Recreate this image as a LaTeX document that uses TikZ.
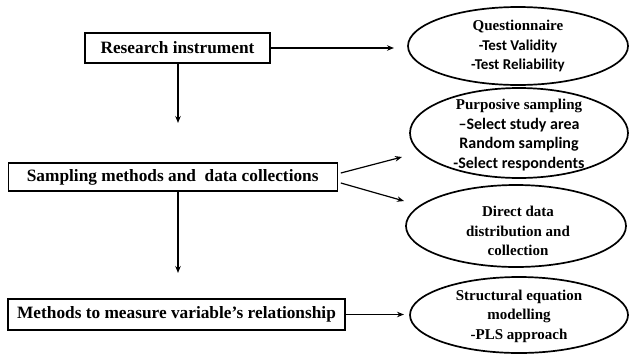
\documentclass[tikz,border=0pt]{standalone}
\usepackage{fontspec}
\setmainfont{Liberation Serif}
\newfontfamily\calib{Carlito}
\usetikzlibrary{shapes.geometric,arrows.meta}
\begin{document}
\begin{tikzpicture}[x=1pt,y=-1pt,
  box/.style={draw,line width=1.3pt,font=\bfseries\fontsize{17.3}{20}\selectfont,inner sep=0pt,anchor=center},
  oval/.style={draw,ellipse,line width=1.7pt,inner sep=0pt},
  otext/.style={align=center,inner sep=0pt,font=\bfseries\fontsize{15}{19.5}\selectfont},
  arr/.style={line width=1.2pt,-{Stealth[length=7pt,width=5.5pt]}}]
\useasboundingbox (0,0) rectangle (629,354);
\node[box,minimum width=185pt,minimum height=30pt] (b1) at (177.5,48) {Research instrument};
\node[box,minimum width=329pt,minimum height=28pt] (b2) at (172.7,177) {Sampling methods and\ \ data collections};
\node[box,minimum width=337pt,minimum height=31pt] (b3) at (176.5,314.5) {Methods to measure variable’s relationship};
\node[oval,minimum width=220pt,minimum height=78pt] (e1) at (518,46) {};
\node[oval,minimum width=218pt,minimum height=90pt] (e2) at (519,133) {};
\node[oval,minimum width=220pt,minimum height=82pt] (e3) at (516,226) {};
\node[oval,minimum width=218pt,minimum height=76pt] (e4) at (519,315) {};
\node[otext] (x1) at (518,46) {Questionnaire\\{\calib\fontsize{15}{19.5}\selectfont -Test Validity}\\{\calib\fontsize{15}{19.5}\selectfont -Test Reliability}};
\node[otext] (x2) at (519,135) {Purposive sampling\\{\calib\fontsize{16}{19.5}\selectfont –Select study area}\\{\calib\fontsize{16}{19.5}\selectfont Random sampling}\\{\calib\fontsize{16}{19.5}\selectfont -Select respondents}};
\node[otext] (x3) at (518,231) {Direct data\\distribution and\\collection};
\node[otext] (x4) at (519,316) {Structural equation\\modelling\\-PLS approach};
\coordinate (t1) at (394,48);
\coordinate (t2) at (402,157);
\coordinate (t3) at (404,201);
\coordinate (t4) at (404,314.5);
\coordinate (d1) at (178,123);
\coordinate (d2) at (178,273);
\draw[arr] (b1.east) -- (t1);
\draw[arr] (b1.south -| d1) -- (d1);
\draw[arr] (b2.east) ++(3,-4) -- (t2);
\draw[arr] (b2.east) ++(3,6) -- (t3);
\draw[arr] (b2.south -| d2) -- (d2);
\draw[arr] (b3.east) -- (t4);
\end{tikzpicture}
\end{document}
